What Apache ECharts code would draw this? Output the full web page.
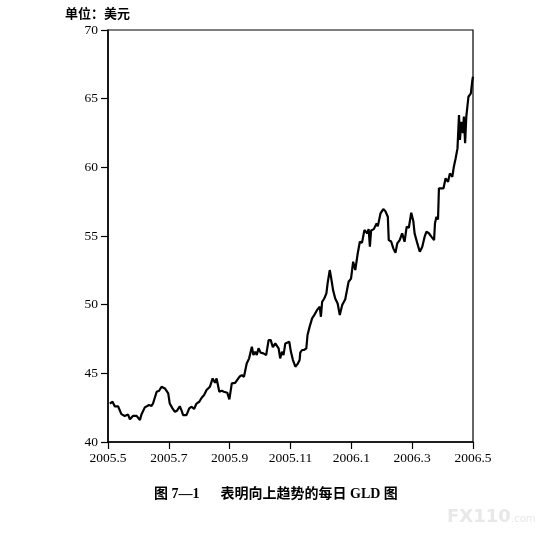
<!DOCTYPE html>
<html>
<head>
<meta charset="utf-8">
<script src="https://cdn.jsdelivr.net/npm/echarts@6/dist/echarts.min.js"></script>
<style>
html,body{margin:0;padding:0;background:#fff;}
#chart{width:542px;height:535px;}
</style>
</head>
<body>
<div id="chart"></div>
<script>
// x tick labels (every two months from 2005.5)
var tickLabels = ['2005.5','2005.7','2005.9','2005.11','2006.1','2006.3','2006.5'];
// time in months since start of May 2005
var months = [0.06,0.15,0.22,0.33,0.44,0.55,0.66,0.72,0.82,0.88,0.94,1.05,1.10,1.21,1.27,1.35,1.43,1.48,1.54,1.60,
1.68,1.76,1.81,1.87,1.93,1.98,2.03,2.12,2.20,2.27,2.36,2.42,2.47,2.53,2.58,2.67,2.75,2.83,2.91,3.00,
3.08,3.16,3.24,3.30,3.35,3.44,3.52,3.57,3.66,3.74,3.81,3.92,3.99,4.07,4.18,4.23,4.32,4.40,4.47,4.56,
4.64,4.73,4.78,4.84,4.89,4.95,5.02,5.11,5.20,5.28,5.35,5.42,5.50,5.55,5.61,5.66,5.72,5.77,5.83,5.88,
5.96,6.01,6.08,6.16,6.23,6.30,6.32,6.38,6.45,6.52,6.56,6.63,6.71,6.78,6.87,6.96,7.00,7.04,7.11,7.18,
7.22,7.29,7.33,7.40,7.47,7.55,7.62,7.70,7.80,7.91,7.99,8.06,8.13,8.21,8.28,8.35,8.43,8.52,8.57,8.61,
8.65,8.74,8.83,8.87,8.96,9.05,9.12,9.20,9.23,9.31,9.38,9.45,9.51,9.59,9.67,9.75,9.82,9.89,9.97,10.04,
10.08,10.17,10.25,10.33,10.41,10.47,10.55,10.63,10.72,10.75,10.80,10.85,10.88,10.94,11.03,11.10,11.18,11.24,11.32,11.37,
11.43,11.49,11.54,11.57,11.62,11.67,11.70,11.74,11.78,11.85,11.93,11.98,12.00];
// GLD daily price (USD)
var prices = [42.80,42.93,42.60,42.60,42.03,41.90,42.00,41.65,41.90,41.79,41.90,41.60,42.00,42.52,42.45,42.69,42.62,42.80,42.75,43.66,
43.73,44.02,44.14,43.90,43.90,43.54,42.80,42.45,42.20,42.28,42.60,42.28,41.96,42.03,41.96,42.45,42.57,42.40,42.80,42.93,
43.22,43.42,43.78,43.66,44.02,44.63,44.31,44.63,43.66,43.73,43.66,43.59,43.10,44.27,44.31,44.39,44.75,44.87,44.75,45.72,
46.09,46.94,46.33,46.57,46.33,46.82,46.50,46.45,46.33,47.42,47.42,46.90,47.18,47.30,46.82,46.09,46.57,46.33,47.18,47.24,
47.30,46.60,45.97,45.48,45.67,45.97,46.50,46.70,46.70,46.82,47.79,48.40,49.00,49.24,49.60,49.85,49.12,50.21,50.45,50.82,
51.55,52.52,52.03,51.06,50.45,50.09,49.24,49.97,50.40,51.67,51.90,53.13,52.52,53.73,54.58,54.50,55.43,55.20,55.50,54.22,
55.40,55.50,55.92,55.70,56.65,56.96,56.80,56.40,54.70,54.60,54.10,53.78,54.46,54.70,55.19,54.58,55.68,55.60,56.70,56.05,
55.19,54.46,53.85,54.20,54.95,55.31,55.20,54.95,54.70,55.92,56.40,56.20,58.47,58.60,58.47,59.20,58.95,59.56,59.30,60.05,
60.66,61.38,63.81,61.99,63.32,62.50,63.69,61.75,63.69,65.14,65.39,66.36,66.60];

var data = months.map(function(m, i){ return [m, prices[i]]; });

var chart = echarts.init(document.getElementById('chart'), null, {renderer:'canvas'});
var serif = 'Liberation Serif, "Noto Sans CJK SC", serif';
chart.setOption({
  animation: false,
  backgroundColor: '#fff',
  grid: {left:108, right:69, top:30, bottom:93, show:true, borderColor:'#000', borderWidth:1.2},
  title: [
    {text:'单位：美元', left:60, top:2, textStyle:{fontFamily:'"Noto Sans CJK SC"', fontSize:13, fontWeight:'bold', color:'#000'}},
    {text:'图 7—1      表明向上趋势的每日 GLD 图', left:149, top:482, textStyle:{fontFamily:serif, fontSize:14, fontWeight:'bold', color:'#000'}}
  ],
  graphic: [
    {type:'text', left:447, top:508, style:{text:'FX110', font:'bold 18px "DejaVu Sans"', fill:'#e8e8e8'}},
    {type:'text', left:511, top:514, style:{text:'.com', font:'10px "DejaVu Sans"', fill:'#e8e8e8'}}
  ],
  xAxis: {
    type:'value', min:0, max:12, interval:2,
    axisLine:{show:true, lineStyle:{color:'#000', width:1.5}},
    axisTick:{show:true, length:7, inside:false, lineStyle:{color:'#000', width:1.2}},
    splitLine:{show:false},
    axisLabel:{margin:10, color:'#000', fontFamily:serif, fontSize:13.5,
      formatter:function(v){ return tickLabels[Math.round(v/2)]; }}
  },
  yAxis: {
    type:'value', min:40, max:70, interval:5,
    axisLine:{show:true, lineStyle:{color:'#000', width:1.5}},
    axisTick:{show:true, length:7, inside:false, lineStyle:{color:'#000', width:1.2}},
    splitLine:{show:false},
    axisLabel:{margin:10, color:'#000', fontFamily:serif, fontSize:13.5}
  },
  series: [{
    type:'line', data:data, showSymbol:false, symbol:'none',
    lineStyle:{color:'#000', width:2.2}
  }]
});
</script>
</body>
</html>
